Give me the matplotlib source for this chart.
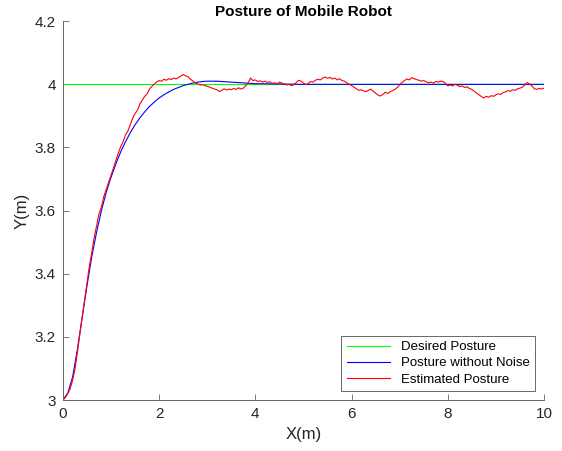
"""Posture of mobile robot: desired vs noiseless vs estimated Y over X."""

import numpy as np
import matplotlib
matplotlib.use("Agg")
import matplotlib.pyplot as plt
from matplotlib.ticker import FuncFormatter

plt.rcParams["font.family"] = ["Liberation Sans", "DejaVu Sans"]

# desired posture
x_des = [0.0, 10.0]
y_des = [4.0, 4.0]

# posture without noise
x_clean = [0.0, 0.1, 0.2, 0.3, 0.4, 0.5, 0.6, 0.7, 0.8, 0.9,
           1.0, 1.1, 1.2, 1.3, 1.4, 1.5, 1.6, 1.7, 1.8, 1.9,
           2.0, 2.1, 2.2, 2.3, 2.4, 2.5, 2.6, 2.7, 2.8, 2.9,
           3.0, 3.1, 3.2, 3.3, 3.4, 3.5, 3.6, 3.7, 3.8, 3.9,
           4.0, 4.5, 5.0, 6.0, 7.0, 8.0, 9.0, 10.0]
y_clean = [3.000, 3.022, 3.072, 3.160, 3.262, 3.362, 3.455, 3.532, 3.600, 3.658,
           3.706, 3.748, 3.786, 3.818, 3.847, 3.872, 3.894, 3.913, 3.930, 3.944,
           3.957, 3.967, 3.976, 3.984, 3.990, 3.996, 4.000, 4.004, 4.007, 4.009,
           4.010, 4.010, 4.010, 4.009, 4.008, 4.007, 4.006, 4.005, 4.004, 4.003,
           4.002, 4.001, 4.000, 4.000, 4.000, 4.000, 4.000, 4.000]

# estimated posture, sampled every 0.05 m
x_est = np.linspace(0, 10, 201)
y_est = [3.000, 3.008, 3.020, 3.036, 3.062, 3.098, 3.150, 3.208, 3.262, 3.318,
         3.370, 3.425, 3.468, 3.515, 3.552, 3.590, 3.612, 3.645, 3.668, 3.690,
         3.712, 3.735, 3.758, 3.782, 3.802, 3.818, 3.840, 3.852, 3.872, 3.893,
         3.908, 3.918, 3.938, 3.950, 3.962, 3.970, 3.986, 3.994, 4.001, 4.008,
         4.012, 4.010, 4.016, 4.013, 4.018, 4.015, 4.020, 4.017, 4.022, 4.026,
         4.031, 4.027, 4.024, 4.016, 4.011, 4.004, 4.002, 3.998, 3.999, 3.996,
         3.994, 3.991, 3.988, 3.985, 3.983, 3.977, 3.981, 3.986, 3.982, 3.985,
         3.983, 3.987, 3.984, 3.989, 3.985, 3.988, 3.996, 4.005, 4.020, 4.012,
         4.014, 4.009, 4.011, 4.007, 4.010, 4.006, 4.008, 4.003, 4.005, 4.002,
         4.007, 4.004, 4.001, 3.998, 4.000, 3.996, 3.999, 4.006, 4.013, 4.010,
         4.004, 3.999, 4.003, 4.009, 4.007, 4.013, 4.016, 4.014, 4.020, 4.023,
         4.019, 4.022, 4.017, 4.020, 4.014, 4.018, 4.012, 4.010, 4.005, 4.000,
         3.996, 3.991, 3.986, 3.981, 3.983, 3.979, 3.977, 3.981, 3.985, 3.978,
         3.972, 3.966, 3.963, 3.968, 3.975, 3.971, 3.976, 3.980, 3.984, 3.990,
         3.999, 4.006, 4.012, 4.017, 4.014, 4.021, 4.018, 4.015, 4.013, 4.010,
         4.012, 4.008, 4.005, 4.007, 4.004, 4.009, 4.007, 4.010, 4.009, 4.003,
         3.995, 3.998, 3.995, 4.000, 3.997, 3.993, 3.995, 3.990, 3.992, 3.987,
         3.984, 3.978, 3.972, 3.967, 3.961, 3.957, 3.962, 3.959, 3.964, 3.962,
         3.967, 3.970, 3.968, 3.974, 3.976, 3.980, 3.978, 3.983, 3.981, 3.986,
         3.988, 3.991, 3.998, 4.006, 4.001, 3.995, 3.986, 3.984, 3.987, 3.985,
         3.988]

x_ticks = [0, 2, 4, 6, 8, 10]
y_ticks = [3.0, 3.2, 3.4, 3.6, 3.8, 4.0, 4.2]

fig = plt.figure(figsize=(5.62, 4.51), dpi=100)
ax = fig.add_axes([0.112, 0.113, 0.856, 0.840])

ax.plot(x_des, y_des, color="#00ff00", lw=0.8, label="Desired Posture")
ax.plot(x_clean, y_clean, color="#0000ff", lw=0.8, label="Posture without Noise")
ax.plot(x_est, y_est, color="#ff0000", lw=0.8, label="Estimated Posture")

ax.set_xlim(0, 10)
ax.set_ylim(3, 4.2)
ax.set_xticks(x_ticks)
ax.set_yticks(y_ticks)
ax.yaxis.set_major_formatter(FuncFormatter(lambda v, p: f"{v:g}"))
ax.tick_params(direction="in", length=4, width=0.6, color="#666666",
               labelcolor="#262626", labelsize=11, pad=5)
for s in ("top", "right"):
    ax.spines[s].set_visible(False)
for s in ("left", "bottom"):
    ax.spines[s].set_color("#666666")
    ax.spines[s].set_linewidth(0.7)

ax.set_xlabel("X(m)", fontsize=12, color="#262626")
ax.set_ylabel("Y(m)", fontsize=12, color="#262626")
ax.set_title("Posture of Mobile Robot", fontsize=11, fontweight="bold", pad=4)

leg = ax.legend(loc="lower right", fontsize=9.5, frameon=True, fancybox=False,
                borderaxespad=0.7, handlelength=3.3, labelspacing=0.3)
leg.get_frame().set_edgecolor("#262626")
leg.get_frame().set_linewidth(0.6)

fig.savefig("out.png", dpi=100)
